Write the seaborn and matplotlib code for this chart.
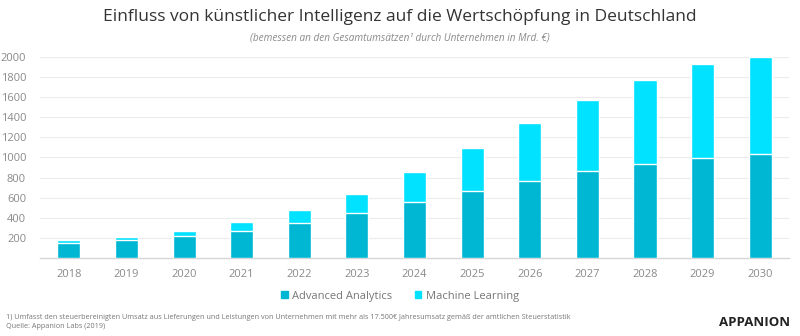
import matplotlib
matplotlib.use("Agg")
import matplotlib.pyplot as plt
import seaborn as sns
import pandas as pd
from matplotlib.patches import Patch

years = ["2018", "2019", "2020", "2021", "2022", "2023", "2024", "2025", "2026", "2027", "2028", "2029", "2030"]
advanced_analytics = [152, 186, 220, 274, 350, 446, 555, 665, 770, 866, 939, 995, 1035]
machine_learning = [28, 26, 50, 82, 126, 195, 298, 426, 569, 704, 830, 930, 965]
yticks = [200, 400, 600, 800, 1000, 1200, 1400, 1600, 1800, 2000]

title = "Einfluss von künstlicher Intelligenz auf die Wertschöpfung in Deutschland"
subtitle = "(bemessen an den Gesamtumsätzen¹ durch Unternehmen in Mrd. €)"
foot1 = "1) Umfasst den steuerbereinigten Umsatz aus Lieferungen und Leistungen von Unternehmen mit mehr als 17.500€ Jahresumsatz gemäß der amtlichen Steuerstatistik"
foot2 = "Quelle: Appanion Labs (2019)"

c_aa = "#00b7d3"
c_ml = "#00e2ff"

sns.set_style("white")
plt.rcParams['font.family'] = ['Open Sans', 'DejaVu Sans']

df = pd.DataFrame({"year": years, "aa": advanced_analytics,
                   "total": [a + m for a, m in zip(advanced_analytics, machine_learning)]})

fig = plt.figure(figsize=(8, 3.36), dpi=100)
ax = fig.add_axes([0.05, 0.2313, 0.9363, 0.6])

sns.barplot(data=df, x="year", y="total", color=c_ml, saturation=1, width=0.4, ax=ax, zorder=3)
sns.barplot(data=df, x="year", y="aa", color=c_aa, saturation=1, width=0.4, ax=ax, zorder=3)

ax.set_xlim(-0.5, len(years) - 0.5)
ax.set_ylim(0, 2000)
ax.set_yticks(yticks)
ax.set_yticklabels([str(v) for v in yticks])
ax.set_xlabel("")
ax.set_ylabel("")
ax.grid(axis="y", color="#ececec", linewidth=0.8, zorder=0)
for s in ["top", "right", "left"]:
    ax.spines[s].set_visible(False)
ax.spines["bottom"].set_color("#d6d6d6")
ax.spines["bottom"].set_linewidth(1)
ax.tick_params(axis="both", length=0, labelsize=8, colors="#8a8a8a")
ax.tick_params(axis="y", pad=10)
ax.tick_params(axis="x", pad=8)

fig.text(0.5, 0.948, title, ha="center", va="center", fontsize=12.5, color="#333333")
fig.text(0.5, 0.888, subtitle, ha="center", va="center", fontsize=7.2, color="#8a8a8a", style="italic")

handles = [Patch(color=c_aa, label="Advanced Analytics"), Patch(color=c_ml, label="Machine Learning")]
fig.legend(handles=handles, loc="center", bbox_to_anchor=(0.5, 0.118), ncol=2, frameon=False,
           fontsize=8, handlelength=0.6, handleheight=0.6, handletextpad=0.4, columnspacing=2.0,
           labelcolor="#777777")

fig.text(0.008, 0.055, foot1, ha="left", va="center", fontsize=5.2, color="#777777")
fig.text(0.008, 0.028, foot2, ha="left", va="center", fontsize=5.2, color="#777777")
fig.text(0.988, 0.04, "APPANION", ha="right", va="center", fontsize=9.5, color="#222222", fontweight="bold")

fig.savefig("out.png", dpi=100)
